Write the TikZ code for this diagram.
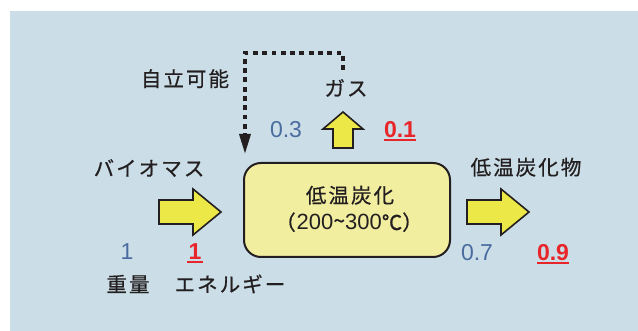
\documentclass[tikz,border=0pt]{standalone}
\usepackage{fontspec}
\setmainfont{Liberation Sans}
\newfontfamily\jp[LetterSpace=10,FakeBold=0.6]{Noto Sans CJK JP}
\newfontfamily\jpn[FakeBold=0.6]{Noto Sans CJK JP}
\usetikzlibrary{arrows.meta}
\definecolor{bgblue}{RGB}{203,221,230}
\definecolor{boxyellow}{RGB}{242,238,160}
\definecolor{arryellow}{RGB}{236,232,72}
\definecolor{numblue}{RGB}{74,108,160}
\definecolor{numred}{RGB}{232,38,42}
\definecolor{ink}{RGB}{35,31,32}
\tikzset{
  jtext/.style={anchor=base, inner sep=0pt, text=ink, font=\jp\fontsize{20.5pt}{24pt}\selectfont},
  bluenum/.style={anchor=base, inner sep=0pt, text=numblue, font=\fontsize{23pt}{26pt}\selectfont},
  rednum/.style={anchor=base, inner sep=0pt, text=numred, font=\bfseries\fontsize{23pt}{26pt}\selectfont},
  uline/.style={draw=numred, line width=1.2pt},
  blockarrow/.style={draw=ink, fill=arryellow, line width=1.6pt, line join=miter},
  procbox/.style={draw=ink, fill=boxyellow, line width=2pt, rounded corners=17pt,
    minimum width=206pt, minimum height=94pt, inner sep=0pt},
  dotline/.style={draw=ink, line width=3.4pt, dash pattern=on 4.8pt off 4.5pt,
    -{Triangle[length=20pt,width=11pt]}}
}
\begin{document}
\begin{tikzpicture}[x=1pt,y=-1pt]
\useasboundingbox (0,0) rectangle (638,331);
\fill[bgblue] (10,11) rectangle (638,331);

% process box
\node[procbox] (proc) at (347,210) {};
\node[jtext] (t1) at (350,203) {低温炭化};
\node[anchor=base, inner sep=0pt, text=ink] (t2) at (349,230)
  {{\jpn\fontsize{20.5pt}{24pt}\selectfont （}\kern1pt{\fontsize{22pt}{24pt}\selectfont 200\raisebox{1.5pt}{\jpn\fontsize{21pt}{20pt}\selectfont \textasciitilde}300}{\jpn\fontsize{20.5pt}{24pt}\selectfont ℃}\kern0pt{\jpn\fontsize{20.5pt}{24pt}\selectfont ）}};

% block arrows
\draw[blockarrow] (159,200) -- (193,200) -- (193,189) -- (221,212) -- (193,235) -- (193,224) -- (159,224) -- cycle;
\draw[blockarrow] (467,200) -- (501,200) -- (501,189) -- (529,212) -- (501,235) -- (501,224) -- (467,224) -- cycle;
\draw[blockarrow] (333,148) -- (333,129) -- (323,129) -- (343,112) -- (363,129) -- (353,129) -- (353,148) -- cycle;

% texts
\node[jtext] (jiritsu) at (185,86.5) {自立可能};
\node[jtext] (gas) at (346,96) {ガス};
\node[jtext] (bio) at (149,176) {バイオマス};
\node[jtext] (char) at (526,175) {低温炭化物};
\node[jtext] (weight) at (128,292) {重量};
\node[jtext] (energy) at (230,292) {エネルギー};

% dotted feedback line
\coordinate (ds) at (343,70);
\coordinate (dc) at (343,53);
\coordinate (de) at (245,154);
\draw[dotline] (ds) -- (dc) -| (de);

% numbers
\node[bluenum] (n03) at (286,138) {0.3};
\node[rednum] (n01) at (400,138) {0.1};
\node[bluenum] (nw1) at (127,260) {1};
\node[rednum] (ne1) at (195,260) {1};
\node[bluenum] (n07) at (477,260.5) {0.7};
\node[rednum] (n09) at (553,260.5) {0.9};
\draw[uline] ([yshift=-2pt]n01.base west) -- ([yshift=-2pt]n01.base east);
\draw[uline] ([yshift=-2pt,xshift=-1pt]ne1.base west) -- ([yshift=-2pt,xshift=1pt]ne1.base east);
\draw[uline] ([yshift=-2.5pt]n09.base west) -- ([yshift=-2.5pt]n09.base east);
\end{tikzpicture}
\end{document}
